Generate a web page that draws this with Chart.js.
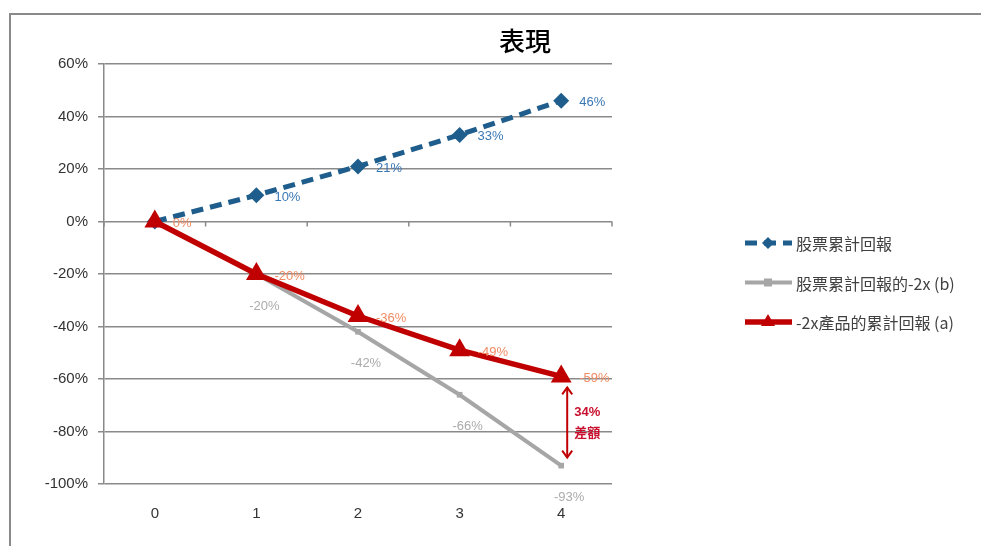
<!DOCTYPE html>
<html>
<head>
<meta charset="utf-8">
<script src="https://cdn.jsdelivr.net/npm/chart.js@4"></script>
<style>
  body { margin: 0; background: #fff; }
  #wrap { position: relative; width: 981px; height: 546px; }
  #frame { position: absolute; left: 9px; top: 13px; right: 0; bottom: 0; border-top: 2px solid #8a8a8a; border-left: 2px solid #8a8a8a; }
  canvas { position: absolute; left: 0; top: 0; }
</style>
</head>
<body>
<div id="wrap">
  <div id="frame"></div>
  <canvas id="myChart" width="981" height="546"></canvas>
</div>
<script>
// Chart data
const periods = ['0', '1', '2', '3', '4'];
const stockReturn = [0, 10, 21, 33, 46];          // 股票累計回報
const stockTimesMinus2 = [0, -20, -42, -66, -93]; // 股票累計回報的-2x (b)
const productReturn = [0, -20, -36, -49, -59];    // -2x產品的累計回報 (a)
const yTicks = [60, 40, 20, 0, -20, -40, -60, -80, -100];
const seriesNames = ['股票累計回報', '股票累計回報的-2x (b)', '-2x產品的累計回報 (a)'];

const latin = "'Liberation Sans Narrow', 'Liberation Sans', Arial, sans-serif";
const cjk = "'Noto Sans CJK TC', 'Noto Sans CJK SC', sans-serif";

const blue = '#1F5E8C';
const gray = '#A6A6A6';
const red = '#C00000';

// draws title, value labels, gap arrow, legend, zero-line ticks
const extras = {
    id: 'extras',
    afterDatasetsDraw(chart) {
        const ctx = chart.ctx;
        const x = chart.scales.x, y = chart.scales.y;
        ctx.save();

        // small tick marks on the 0% line
        ctx.strokeStyle = '#8a8a8a';
        ctx.lineWidth = 1.5;
        const y0 = y.getPixelForValue(0);
        const step = x.getPixelForValue(1) - x.getPixelForValue(0);
        for (let i = 0; i <= periods.length; i++) {
            const px = x.getPixelForValue(0) - step / 2 + i * step;
            ctx.beginPath(); ctx.moveTo(px, y0); ctx.lineTo(px, y0 + 5); ctx.stroke();
        }

        // value labels
        ctx.font = '13px ' + latin;
        ctx.textBaseline = 'middle';
        ctx.textAlign = 'left';
        ctx.fillStyle = '#3A78B5';
        stockReturn.forEach((v, i) => {
            if (i === 0) return;
            ctx.fillText(v + '%', x.getPixelForValue(i) + 18, y.getPixelForValue(v) + 2);
        });
        ctx.textAlign = 'center';
        ctx.fillStyle = '#ABABAB';
        stockTimesMinus2.forEach((v, i) => {
            if (i === 0) return;
            ctx.fillText(v + '%', x.getPixelForValue(i) + 8, y.getPixelForValue(v) + 32);
        });
        ctx.textAlign = 'left';
        ctx.fillStyle = '#F08C64';
        productReturn.forEach((v, i) => {
            ctx.fillText(v + '%', x.getPixelForValue(i) + 18, y.getPixelForValue(v) + 2);
        });

        // gap arrow at the last period
        const last = periods.length - 1;
        const ax = x.getPixelForValue(last) + 6;
        const ya = y.getPixelForValue(productReturn[last]) + 11;
        const yb = y.getPixelForValue(stockTimesMinus2[last]) - 8;
        ctx.strokeStyle = red;
        ctx.lineWidth = 2;
        ctx.beginPath(); ctx.moveTo(ax, ya); ctx.lineTo(ax, yb); ctx.stroke();
        ctx.beginPath();
        ctx.moveTo(ax - 5, ya + 7); ctx.lineTo(ax, ya); ctx.lineTo(ax + 5, ya + 7);
        ctx.moveTo(ax - 5, yb - 7); ctx.lineTo(ax, yb); ctx.lineTo(ax + 5, yb - 7);
        ctx.stroke();
        const gap = Math.round(productReturn[last] - stockTimesMinus2[last]);
        ctx.fillStyle = '#C8102E';
        ctx.font = 'bold 13px ' + latin;
        ctx.fillText(gap + '%', ax + 7, (ya + yb) / 2 - 10);
        ctx.font = 'bold 13px ' + cjk;
        ctx.fillText('差額', ax + 7, (ya + yb) / 2 + 10);

        // title
        ctx.fillStyle = '#000';
        ctx.textAlign = 'center';
        ctx.font = '500 26px ' + cjk;
        ctx.fillText('表現', 525, 41);

        // legend
        ctx.textAlign = 'left';
        ctx.font = '16px ' + cjk;
        chart.data.datasets.forEach((ds, i) => {
            const ly = 243 + i * 39.5;
            ctx.strokeStyle = ds.borderColor;
            ctx.lineWidth = ds.borderWidth;
            ctx.setLineDash(ds.borderDash || []);
            ctx.beginPath(); ctx.moveTo(745, ly); ctx.lineTo(792, ly); ctx.stroke();
            ctx.setLineDash([]);
            ctx.fillStyle = ds.pointBackgroundColor;
            const cx = 768;
            ctx.beginPath();
            if (ds.pointStyle === 'rectRot') {
                ctx.moveTo(cx, ly - 6); ctx.lineTo(cx + 6, ly); ctx.lineTo(cx, ly + 6); ctx.lineTo(cx - 6, ly);
            } else if (ds.pointStyle === 'triangle') {
                ctx.moveTo(cx, ly - 8); ctx.lineTo(cx + 7, ly + 4); ctx.lineTo(cx - 7, ly + 4);
            } else {
                ctx.rect(cx - 4, ly - 4, 8, 8);
            }
            ctx.fill();
            ctx.fillStyle = '#404040';
            ctx.fillText(ds.label, 796, ly + 1);
        });
        ctx.restore();
    }
};

const config = {
    type: 'line',
    data: {
        labels: periods,
        datasets: [{
            label: seriesNames[0],
            data: stockReturn,
            borderColor: blue,
            backgroundColor: blue,
            pointBackgroundColor: blue,
            borderWidth: 5,
            borderDash: [12, 7],
            pointStyle: 'rectRot',
            pointRadius: 8,
            pointBorderWidth: 0,
            order: 2
        }, {
            label: seriesNames[1],
            data: stockTimesMinus2,
            borderColor: gray,
            backgroundColor: gray,
            pointBackgroundColor: gray,
            borderWidth: 4,
            pointStyle: 'rect',
            pointRadius: 4,
            pointBorderWidth: 0,
            order: 1
        }, {
            label: seriesNames[2],
            data: productReturn,
            borderColor: red,
            backgroundColor: red,
            pointBackgroundColor: red,
            borderWidth: 5.5,
            pointStyle: 'triangle',
            pointRadius: 12,
            pointBorderWidth: 0,
            order: 0
        }]
    },
    options: {
        responsive: false,
        animation: false,
        layout: { padding: { left: 0, top: 64, right: 369, bottom: 0 } },
        plugins: { legend: { display: false }, tooltip: { enabled: false } },
        scales: {
            x: {
                offset: true,
                grid: { display: false, drawTicks: false },
                border: { display: false },
                ticks: { color: '#333', font: { family: latin, size: 15 }, padding: 21 },
                afterFit: s => { s.height = 62; }
            },
            y: {
                min: yTicks[yTicks.length - 1],
                max: yTicks[0],
                afterBuildTicks: s => { s.ticks = yTicks.map(v => ({ value: v })); },
                grid: { color: '#8a8a8a', lineWidth: 1.5, tickLength: 6 },
                border: { display: true, color: '#8a8a8a', width: 1.5 },
                ticks: { color: '#333', font: { family: latin, size: 15 }, padding: 10, callback: v => v + '%' },
                afterFit: s => { s.width = 104; }
            }
        }
    },
    plugins: [extras]
};

const myChart = new Chart(document.getElementById('myChart'), config);
</script>
</body>
</html>
